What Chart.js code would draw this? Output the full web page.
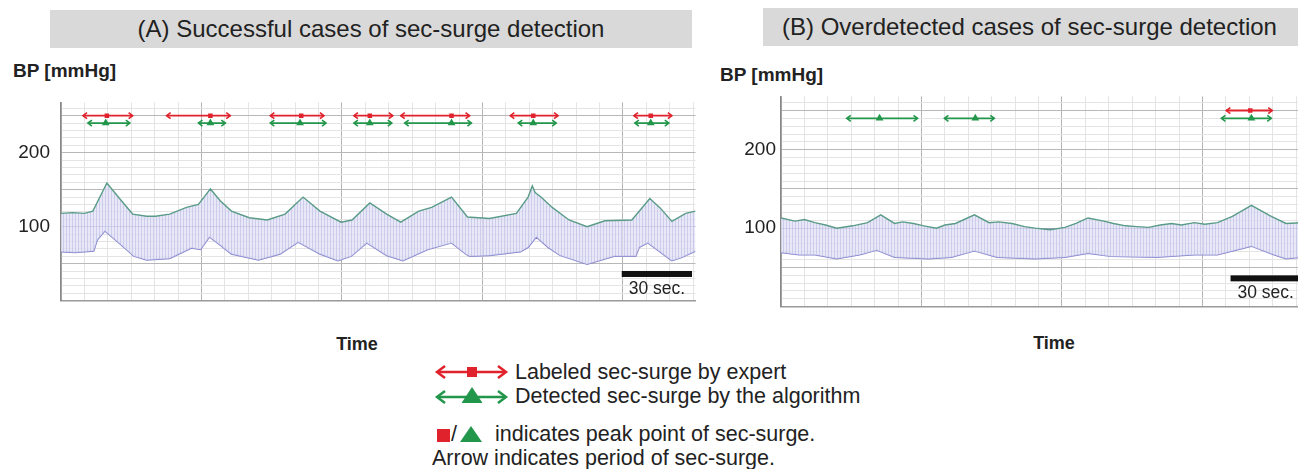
<!DOCTYPE html>
<html>
<head>
<meta charset="utf-8">
<script src="https://cdn.jsdelivr.net/npm/chart.js@4.4.1/dist/chart.umd.min.js"></script>
<style>
  html, body { margin: 0; padding: 0; background: #fff; }
  body { width: 1298px; height: 469px; overflow: hidden; position: relative;
         font-family: "Liberation Sans", Arial, sans-serif; color: #222; }
  .title { position: absolute; background: #d9d9d9; height: 38px; line-height: 38px;
           font-size: 24px; white-space: nowrap; box-sizing: border-box; }
  #titleA { left: 50px; top: 10px; width: 642px; text-align: center; }
  #titleB { left: 763px; top: 8px; width: 700px; padding-left: 19px; }
  .ylab { position: absolute; font-weight: bold; font-size: 19px; line-height: 22px; white-space: nowrap; }
  .xlab { position: absolute; width: 100px; text-align: center; font-weight: bold; font-size: 18px; line-height: 22px; }
  canvas { position: absolute; top: 80px; }
  #chartA { left: 0; }
  #chartB { left: 720px; }
  .leg { position: absolute; font-size: 21.5px; line-height: 24px; white-space: nowrap; }
  svg { position: absolute; }
</style>
</head>
<body>
<div class="title" id="titleA">(A) Successful cases of sec-surge detection</div>
<div class="title" id="titleB">(B) Overdetected cases of sec-surge detection</div>
<div class="ylab" style="left:13px; top:60px;">BP [mmHg]</div>
<div class="ylab" style="left:720px; top:64px;">BP [mmHg]</div>
<div class="xlab" style="left:307px; top:333px;">Time</div>
<div class="xlab" style="left:1004px; top:332px;">Time</div>

<canvas id="chartA" width="700" height="243"></canvas>
<canvas id="chartB" width="700" height="243"></canvas>

<svg style="left:433px; top:362px;" width="78" height="20">
  <g stroke="#e0222c" stroke-width="2.5" fill="none">
    <line x1="5" y1="10" x2="72" y2="10"/>
    <polyline points="12,4 4,10 12,16"/>
    <polyline points="65,4 73,10 65,16"/>
  </g>
  <rect x="34" y="5" width="10" height="10" fill="#e0222c"/>
</svg>
<div class="leg" style="left:515px; top:360px;">Labeled sec-surge by expert</div>
<svg style="left:433px; top:386px;" width="78" height="20">
  <g stroke="#22964a" stroke-width="2.5" fill="none">
    <line x1="5" y1="11" x2="72" y2="11"/>
    <polyline points="12,5 4,11 12,17"/>
    <polyline points="65,5 73,11 65,17"/>
  </g>
  <polygon points="39,1 49.5,17 28.5,17" fill="#22964a"/>
</svg>
<div class="leg" style="left:515px; top:384px;">Detected sec-surge by the algorithm</div>
<div style="position:absolute; left:437px; top:429px; width:13px; height:13px; background:#e0222c;"></div>
<div class="leg" style="left:451px; top:422px;">/</div>
<svg style="left:459px; top:426px;" width="24" height="16">
  <polygon points="12,0 23,16 1,16" fill="#22964a"/>
</svg>
<div class="leg" style="left:495px; top:422px;">indicates peak point of sec-surge.</div>
<div class="leg" style="left:432px; top:446px;">Arrow indicates period of sec-surge.</div>

<script>
// time in seconds from the left edge of each plot, BP in mmHg
const aSysT = [0, 5, 10, 13.6, 19.6, 25, 30.6, 36.6, 40.4, 46.4, 53.6, 58.7, 63.8, 68, 72.8, 80.4, 88.1, 95.7, 103.4, 110.6, 119.6, 124.3, 131.9, 139.1, 145.1, 152.8, 158.3, 166.8, 173.6, 183, 194.5, 199.5, 201.3, 202.5, 205, 209.8, 217, 224.7, 232.3, 243.8, 251.5, 256, 260.9, 266.8, 271];
const aSysV = [118, 119, 118, 121, 159, 138, 117, 114, 114, 117, 126, 130, 151, 135, 121, 112, 109, 117, 140, 121, 106, 109, 132, 117, 106, 121, 126, 140, 113, 111, 118, 140, 155, 146, 140, 126, 109, 100, 108, 109, 138, 125, 107, 118, 121];
const aDiaT = [0, 6, 14, 15.5, 18.7, 24, 31.1, 36.6, 46.4, 55.7, 59.6, 63.4, 68, 72.8, 84.3, 93.6, 101.3, 110.6, 118.3, 124, 130.6, 139.1, 146, 156.6, 166.8, 172.8, 174.5, 183, 196.2, 199.5, 203, 208, 213.2, 224.7, 236.2, 245.5, 247, 250.6, 260.9, 265, 271];
const aDiaV = [66, 65, 67, 82, 94, 80, 60, 55, 57, 71, 69, 86, 75, 63, 55, 63, 79, 63, 54, 60, 78, 61, 54, 69, 78, 63, 60, 61, 66, 72, 86, 72, 61, 49, 60, 60, 72, 78, 54, 58, 67];

const aRedStart = [9.4, 45.1, 89.4, 125.1, 145.1, 191.9, 244.7];
const aRedEnd = [30.6, 72.3, 112.3, 141.7, 174.5, 212.3, 260.9];
const aRedPeak = [19.6, 63.8, 102.6, 131.9, 166.8, 201.7, 251.9];
const aGreenStart = [11.5, 58.7, 89.4, 125.1, 146.8, 195.3, 245.1];
const aGreenEnd = [29.4, 70.2, 113.2, 141.3, 175.3, 211.5, 259.6];
const aGreenPeak = [19.1, 63.8, 102.1, 131.9, 166.8, 201.7, 251.9];

const bSysT = [0, 6, 10, 14.5, 19, 23.8, 30.6, 37, 42.6, 48.5, 52, 56.6, 61, 66.4, 70, 74.5, 82.6, 88.9, 93, 98.7, 104, 108.5, 114.9, 121.3, 126, 131.1, 137.9, 142, 147.2, 152, 157, 162, 166.8, 171, 176.6, 181, 186.4, 192.8, 200.9, 209.4, 215.7, 222];
const bSysV = [113, 109, 111, 107, 104, 100, 103, 107, 117, 106, 108, 106, 103, 100, 104, 106, 117, 107, 108, 106, 102, 100, 98, 101, 106, 113, 109, 106, 103, 102, 101, 104, 106, 104, 107, 105, 107, 115, 129, 115, 106, 107];
const bDiaT = [0, 7.7, 14.5, 23.8, 33.6, 40.9, 48.5, 63, 72.8, 82.6, 92.3, 108.5, 121.3, 131.1, 140.9, 160.4, 176.6, 186.4, 200.9, 210.6, 215.7, 222];
const bDiaV = [69, 66, 66, 61, 66, 72, 63, 61, 63, 71, 63, 61, 63, 68, 64, 63, 66, 66, 77, 66, 61, 63];

const bRedStart = [190.2];
const bRedEnd = [209.8];
const bRedPeak = [200.4];
const bGreenStart = [28.1, 69.8, 188.1];
const bGreenEnd = [58.3, 91.1, 209.4];
const bGreenPeak = [42.1, 83.0, 200.9];

const yTickLabels = [100, 200];
const expertLevel = 250;
const algoLevel = 240;

const RED = '#e0222c';
const GREEN = '#22964a';

Chart.defaults.font.family = '"Liberation Sans", Arial, sans-serif';

function zip(ts, vs) {
    return ts.map((t, i) => ({x: t, y: vs[i]}));
}

function segments(starts, ends, level) {
    const pts = [];
    starts.forEach((s, i) => {
        pts.push({x: s, y: level}, {x: ends[i], y: level}, {x: ends[i], y: null});
    });
    return pts;
}

function hatch() {
    const c = document.createElement('canvas');
    c.width = 3; c.height = 3;
    const g = c.getContext('2d');
    g.fillStyle = 'rgba(224,224,246,0.75)';
    g.fillRect(0, 0, 3, 3);
    g.fillStyle = 'rgba(170,170,220,0.45)';
    g.fillRect(0, 0, 1, 3);
    return g.createPattern(c, 'repeat');
}

// open chevrons at both ends of each surge period
const arrowHeads = {
    id: 'arrowHeads',
    afterDatasetsDraw(chart) {
        const ctx = chart.ctx;
        chart.data.datasets.forEach((ds, i) => {
            if (!ds.arrows) return;
            const pts = chart.getDatasetMeta(i).data;
            ctx.save();
            ctx.strokeStyle = ds.borderColor;
            ctx.lineWidth = 1.6;
            for (let j = 0; j + 1 < pts.length; j += 3) {
                const a = pts[j], b = pts[j + 1];
                ctx.beginPath();
                ctx.moveTo(a.x + 4, a.y - 3); ctx.lineTo(a.x, a.y); ctx.lineTo(a.x + 4, a.y + 3);
                ctx.moveTo(b.x - 4, b.y - 3); ctx.lineTo(b.x, b.y); ctx.lineTo(b.x - 4, b.y + 3);
                ctx.stroke();
            }
            ctx.restore();
        });
    }
};

const scaleBar = {
    id: 'scaleBar',
    afterDraw(chart, args, opts) {
        const {ctx, scales: {x, y}} = chart;
        const x0 = x.getPixelForValue(opts.start);
        const x1 = x.getPixelForValue(opts.start + opts.length);
        const yy = y.getPixelForValue(opts.level);
        ctx.save();
        ctx.fillStyle = '#111';
        ctx.fillRect(x0, yy - 3, x1 - x0, 6);
        ctx.fillStyle = '#222';
        ctx.font = '17.5px "Liberation Sans", Arial, sans-serif';
        ctx.textAlign = 'center';
        ctx.textBaseline = 'middle';
        ctx.fillText(opts.label, (x0 + x1) / 2, yy + 15);
        ctx.restore();
    }
};

function makePanel(id, d) {
    const ctx = document.getElementById(id).getContext('2d');
    return new Chart(ctx, {
        type: 'line',
        data: {
            datasets: [
                {label: 'Systolic', data: zip(d.sysT, d.sysV), borderColor: '#5a9c88', borderWidth: 1.4,
                 pointRadius: 0, fill: '+1', backgroundColor: hatch()},
                {label: 'Diastolic', data: zip(d.diaT, d.diaV), borderColor: '#8282cc', borderWidth: 1.4,
                 pointRadius: 0, fill: false},
                {label: 'Labeled sec-surge by expert', data: segments(d.redStart, d.redEnd, expertLevel),
                 borderColor: RED, borderWidth: 1.8, pointRadius: 0, spanGaps: false, fill: false, arrows: true},
                {label: 'Detected sec-surge by the algorithm', data: segments(d.greenStart, d.greenEnd, algoLevel),
                 borderColor: GREEN, borderWidth: 1.8, pointRadius: 0, spanGaps: false, fill: false, arrows: true},
                {type: 'scatter', label: 'expert peak', data: d.redPeak.map(t => ({x: t, y: expertLevel})),
                 pointStyle: 'rect', pointRadius: 3.2, backgroundColor: RED, borderWidth: 0},
                {type: 'scatter', label: 'algorithm peak', data: d.greenPeak.map(t => ({x: t, y: algoLevel})),
                 pointStyle: 'triangle', pointRadius: 4.5, backgroundColor: GREEN, borderWidth: 0}
            ]
        },
        options: {
            responsive: false,
            animation: false,
            layout: {padding: {top: 7, right: 2, bottom: 2, left: 0}},
            plugins: {
                legend: {display: false},
                tooltip: {enabled: false},
                scaleBar: {start: d.barStart, length: 30, level: 36, label: '30 sec.'}
            },
            scales: {
                x: {
                    type: 'linear', min: 0, max: 271,
                    afterBuildTicks: s => { const t = []; for (let v = 0; v <= 270; v += 10) t.push({value: v}); s.ticks = t; },
                    afterFit: s => { s.height = 0; },
                    ticks: {display: false, autoSkip: false},
                    grid: {drawTicks: false, lineWidth: 1,
                           color: c => (c.tick && c.tick.value % 60 === 0) ? '#b4b4b4' : '#e4e4e4'},
                    border: {color: '#9a9a9a', width: 1.5}
                },
                y: {
                    min: 0, max: 268,
                    afterBuildTicks: s => { const t = []; for (let v = 0; v <= 260; v += 10) t.push({value: v}); s.ticks = t; },
                    afterFit: s => { s.width = 61; },
                    ticks: {
                        autoSkip: false,
                        padding: d.tickPad, color: '#222', font: {size: 19},
                        callback: v => yTickLabels.includes(v) ? String(v) : ''
                    },
                    grid: {drawTicks: false, lineWidth: 1,
                           color: c => {
                               const v = c.tick ? c.tick.value : 0;
                               if (v === 100) return '#a0a0c4';
                               return v % 50 === 0 ? '#b8b8b8' : '#e4e4e4';
                           }},
                    border: {color: '#8a8a8a', width: 1.5}
                }
            }
        },
        plugins: [arrowHeads, scaleBar]
    });
}

makePanel('chartA', {
    sysT: aSysT, sysV: aSysV, diaT: aDiaT, diaV: aDiaV,
    redStart: aRedStart, redEnd: aRedEnd, redPeak: aRedPeak,
    greenStart: aGreenStart, greenEnd: aGreenEnd, greenPeak: aGreenPeak,
    barStart: 239.5, tickPad: 11
});
makePanel('chartB', {
    sysT: bSysT, sysV: bSysV, diaT: bDiaT, diaV: bDiaV,
    redStart: bRedStart, redEnd: bRedEnd, redPeak: bRedPeak,
    greenStart: bGreenStart, greenEnd: bGreenEnd, greenPeak: bGreenPeak,
    barStart: 192, tickPad: 5
});
</script>
</body>
</html>
